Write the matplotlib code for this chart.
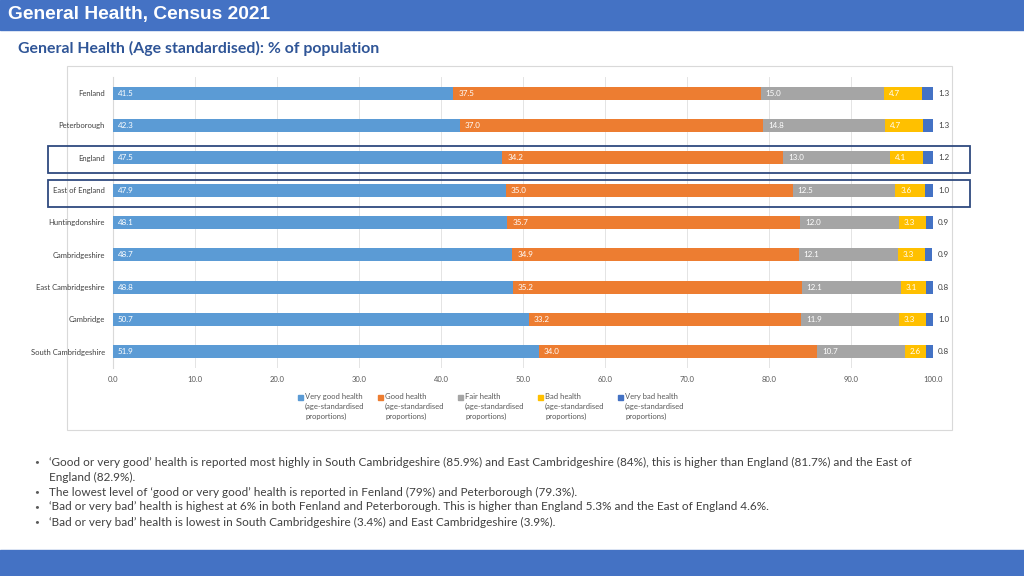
import matplotlib.pyplot as plt
from matplotlib.patches import Rectangle
import numpy as np

plt.rcParams['font.family'] = ['Lato', 'DejaVu Sans']

# Data (age standardised %)
areas = ["Fenland", "Peterborough", "England", "East of England", "Huntingdonshire",
         "Cambridgeshire", "East Cambridgeshire", "Cambridge", "South Cambridgeshire"]
very_good = [41.5, 42.3, 47.5, 47.9, 48.1, 48.7, 48.8, 50.7, 51.9]
good = [37.5, 37.0, 34.2, 35.0, 35.7, 34.9, 35.2, 33.2, 34.0]
fair = [15.0, 14.8, 13.0, 12.5, 12.0, 12.1, 12.1, 11.9, 10.7]
bad = [4.7, 4.7, 4.1, 3.6, 3.3, 3.3, 3.1, 3.3, 2.6]
very_bad = [1.3, 1.3, 1.2, 1.0, 0.9, 0.9, 0.8, 1.0, 0.8]
series_names = ["Very good health\n(age-standardised\nproportions)",
                "Good health\n(age-standardised\nproportions)",
                "Fair health\n(age-standardised\nproportions)",
                "Bad health\n(age-standardised\nproportions)",
                "Very bad health\n(age-standardised\nproportions)"]
colors = ["#5B9BD5", "#ED7D31", "#A5A5A5", "#FFC000", "#4472C4"]
bullets = [
    "\u2018Good or very good\u2019 health is reported most highly in South Cambridgeshire (85.9%) and East Cambridgeshire (84%), this is higher than England (81.7%) and the East of",
    "England (82.9%).",
    "The lowest level of \u2018good or very good\u2019 health is reported in Fenland (79%) and Peterborough (79.3%).",
    "\u2018Bad or very bad\u2019 health is highest at 6% in both Fenland and Peterborough. This is higher than England 5.3% and the East of England 4.6%.",
    "\u2018Bad or very bad\u2019 health is lowest in South Cambridgeshire (3.4%) and East Cambridgeshire (3.9%).",
]

W, H = 1024, 576
fig = plt.figure(figsize=(W / 100, H / 100), dpi=100)
fig.patch.set_facecolor("white")

def fx(px):
    return px / W

def fy(py):
    return 1 - py / H

# header and footer bars
fig.add_artist(Rectangle((0, fy(30)), 1, 30 / H, transform=fig.transFigure, color="#4472C4", zorder=0))
fig.add_artist(Rectangle((0, 0), 1, 26 / H, transform=fig.transFigure, color="#4472C4", zorder=0))
fig.text(fx(8), fy(14), "General Health, Census 2021", color="white", fontsize=13.8,
         fontweight="bold", family="Liberation Sans", va="center", ha="left")
fig.text(fx(18), fy(48), "General Health (Age standardised): % of population", color="#2F5597",
         fontsize=11.4, fontweight="bold", va="center", ha="left")

# chart frame
fig.add_artist(Rectangle((fx(67), fy(430)), fx(952 - 67), (430 - 66) / H, transform=fig.transFigure,
                         fill=False, edgecolor="#D9D9D9", lw=0.8, zorder=0))

ax = fig.add_axes([fx(113), fy(368), fx(933 - 113), (368 - 77) / H])
y = np.arange(len(areas))
data = [very_good, good, fair, bad, very_bad]
left = np.zeros(len(areas))
for i, (vals, col, name) in enumerate(zip(data, colors, series_names)):
    vals = np.array(vals)
    ax.barh(y, vals, left=left, height=0.4, color=col, label=name, zorder=3)
    for yi, l, v in zip(y, left, vals):
        if i < 4:
            ax.text(l + 0.6, yi, f"{v:.1f}", color="white", fontsize=5.8, va="center", ha="left", zorder=4)
        else:
            ax.text(100.6, yi, f"{v:.1f}", color="#404040", fontsize=5.8, va="center", ha="left", zorder=4)
    left = left + vals

ax.set_xlim(0, 100)
ax.set_ylim(len(areas) - 0.5, -0.5)
ax.set_yticks(y)
ax.set_yticklabels(areas, fontsize=5.5, color="#404040")
ax.set_xticks(np.arange(0, 101, 10))
ax.set_xticklabels([f"{t:.1f}" for t in np.arange(0, 101, 10)], fontsize=5.5, color="#595959")
ax.tick_params(length=0, pad=6)
ax.grid(axis="x", color="#E4E4E4", lw=0.7, zorder=0)
for s in ["top", "right", "bottom"]:
    ax.spines[s].set_visible(False)
ax.spines["left"].set_color("#D9D9D9")

# highlight boxes around England and East of England
for yc, (lo, hi) in zip([2, 3], [(0.37, 0.46), (0.31, 0.52)]):
    ax.add_patch(Rectangle((-7.9, yc - lo), 112.4, lo + hi, fill=False, edgecolor="#2F4A7F",
                           lw=1.3, clip_on=False, zorder=5))

# legend drawn as small squares with three-line labels
for k, (col, name) in enumerate(zip(colors, series_names)):
    x0 = 298 + 80 * k
    fig.add_artist(Rectangle((fx(x0), fy(400)), fx(5), 5 / H, transform=fig.transFigure, color=col))
    fig.text(fx(x0 + 7), fy(393), name, fontsize=5.5, color="#595959", va="top", ha="left",
             linespacing=1.5)

# bullet text
for i, line in enumerate(bullets):
    yy = fy(462 + 15 * i)
    if i != 1:
        fig.text(fx(34), yy, "\u2022", fontsize=6, color="#595959", va="center")
    fig.text(fx(49), yy, line, fontsize=8.5, color="#404040", va="center", ha="left")

fig.savefig("out.png", dpi=100)
